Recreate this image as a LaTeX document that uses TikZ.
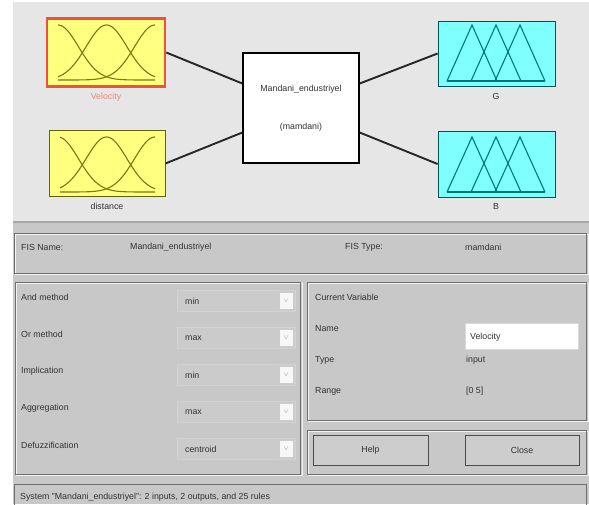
\documentclass[tikz,border=0pt]{standalone}
\usepackage{fontspec}
\setmainfont{Liberation Sans}
\usetikzlibrary{calc}
\definecolor{topbg}{RGB}{230,230,230}
\definecolor{botbg}{RGB}{200,200,200}
\definecolor{mfyellow}{RGB}{255,255,128}
\definecolor{mfcyan}{RGB}{128,255,255}
\definecolor{olive}{RGB}{120,120,20}
\definecolor{teal}{RGB}{0,120,120}
\definecolor{selred}{RGB}{240,80,60}
\definecolor{etch}{RGB}{110,110,110}
\definecolor{txt}{RGB}{50,50,50}
\tikzset{
  txtstyle/.style={font=\fontsize{8.8}{10}\selectfont, text=txt, inner sep=0pt},
  lbl/.style={txtstyle, anchor=west},
  inbox/.style={draw=olive!80!black, fill=mfyellow, line width=0.8pt, inner sep=0pt, minimum width=#1},
  outbox/.style={draw=teal!70!black, fill=mfcyan, line width=0.8pt, inner sep=0pt},
  panel/.style={draw=etch, line width=1pt},
  panelin/.style={draw=white!90!gray, line width=0.6pt},
  conn/.style={line width=1.9pt, black!85},
  btn/.style={draw=gray!60!black, fill=botbg!90!white, line width=0.8pt, inner sep=0pt},
  dd/.style={draw=gray!35, fill=botbg!95!white, line width=0.4pt, inner sep=0pt},
  ddarrow/.style={draw=gray!40, fill=white!85!botbg, inner sep=0pt, minimum width=14pt, minimum height=17pt},
}
\begin{document}
\begin{tikzpicture}[x=1pt,y=-1pt]
\useasboundingbox (0,0) rectangle (589,504);
\fill[white] (0,0) rectangle (589,504);
% backgrounds
\fill[topbg] (13,2) rectangle (589,221);
\fill[botbg] (13,221) rectangle (589,504);
\draw[gray!70, line width=1.5pt] (13,222) -- (589,222);

% --- top diagram ---
\node[draw=selred, line width=2.5pt, fill=mfyellow, inner sep=0pt, minimum width=118pt, minimum height=68pt] (vel) at (106,52.5) {};
\node[inbox=116pt, minimum height=66pt] (dist) at (107,163.5) {};
\node[draw=black, line width=1.4pt, fill=white, inner sep=0pt, minimum width=116pt, minimum height=110pt] (sys) at (301,108) {};
\node[outbox, minimum width=117pt, minimum height=65pt] (g) at (496.5,53.5) {};
\node[outbox, minimum width=117pt, minimum height=66pt] (b) at (496.5,164) {};

% gaussians
\begin{scope}[olive, line width=1.1pt]
\foreach \c in {58,106.5,155}{
  \draw plot[domain=58:155, samples=70] (\x, {80 - 55*exp(-((\x-\c)*(\x-\c))/(2*20.4*20.4))});
  \draw plot[domain=60:155, samples=70] (\x, {192 - 55*exp(-((\x-\c)*(\x-\c))/(2*20.4*20.4))});
}
\end{scope}
% triangles
\begin{scope}[teal, line width=1.1pt]
\foreach \p in {472,496,520}{
  \draw (\p-25,81) -- (\p,25) -- (\p+25,81);
  \draw (\p-25,192) -- (\p,137) -- (\p+25,192);
}
\draw (447,81) -- (545,81);
\draw (447,192) -- (545,192);
\end{scope}

% labels under boxes
\node[txtstyle, text=selred!70!white] (lvel) at (106,97) {Velocity};
\node[txtstyle] (ldist) at (107,206) {distance};
\node[txtstyle] (lg) at (496,96) {G};
\node[txtstyle] (lb) at (496,206) {B};
\node[txtstyle] (sysname) at (301,89) {Mandani\_endustriyel};
\node[txtstyle] (systype) at (301,127) {(mamdani)};

% connectors
\draw[conn] (vel.east) -- ($(sys.north west)!0.28!(sys.south west)$);
\draw[conn] (dist.east) -- ($(sys.north west)!0.72!(sys.south west)$);
\draw[conn] ($(sys.north east)!0.28!(sys.south east)$) -- (g.west);
\draw[conn] ($(sys.north east)!0.72!(sys.south east)$) -- (b.west);

% --- FIS name panel ---
\draw[panelin] (15,234) rectangle (588,274);
\draw[panel] (14,233) rectangle (586,273);
\node[lbl] (fisname) at (21,247) {FIS Name:};
\node[lbl] (fisnamev) at (130,247) {Mandani\_endustriyel};
\node[lbl] (fistype) at (345,247) {FIS Type:};
\node[lbl] (fistypev) at (465,247) {mamdani};

% --- left method panel ---
\draw[panelin] (16,283) rectangle (302,475);
\draw[panel] (15,282) rectangle (300,474);
\foreach \y/\l/\v/\n in {297/And method/min/a, 334/Or method/max/b, 371/Implication/min/c, 408/Aggregation/max/d, 445/Defuzzification/centroid/e}{
  \node[lbl] (lab\n) at (21,\y) {\l};
  \node[dd, minimum width=118pt, minimum height=21pt] (dd\n) at (236,\y+4) {};
  \node[lbl] (val\n) at (185,\y+4) {\v};
  \node[ddarrow] (arr\n) at (286,\y+4) {};
  \node[txtstyle, text=gray] at (arr\n) {\fontsize{6}{6}\selectfont$\vee$};
}

% --- current variable panel ---
\draw[panelin] (308,283) rectangle (588,421);
\draw[panel] (307,282) rectangle (586,420);
\node[lbl] (cv) at (315,297) {Current Variable};
\node[lbl] (nm) at (315,329) {Name};
\node[draw=gray!30, fill=white, inner sep=0pt, minimum width=113pt, minimum height=26pt] (namebox) at (522,336) {};
\node[lbl] (nmv) at (470,337) {Velocity};
\node[lbl] (ty) at (315,360) {Type};
\node[lbl] (tyv) at (466,360) {input};
\node[lbl] (rg) at (315,391) {Range};
\node[lbl] (rgv) at (466,391) {[0 5]};

% --- buttons panel ---
\draw[panelin] (308,431) rectangle (588,475);
\draw[panel] (307,430) rectangle (586,474);
\node[btn, minimum width=115pt, minimum height=30pt] (help) at (370.5,450) {};
\node[txtstyle] at (help) {Help};
\node[btn, minimum width=114pt, minimum height=30pt] (close) at (522,450) {};
\node[txtstyle] at (close) {Close};

% --- status bar ---
\draw[panel] (14,484) rectangle (586,506);
\node[lbl] (status) at (20,497) {System "Mandani\_endustriyel": 2 inputs, 2 outputs, and 25 rules};
\end{tikzpicture}
\end{document}
